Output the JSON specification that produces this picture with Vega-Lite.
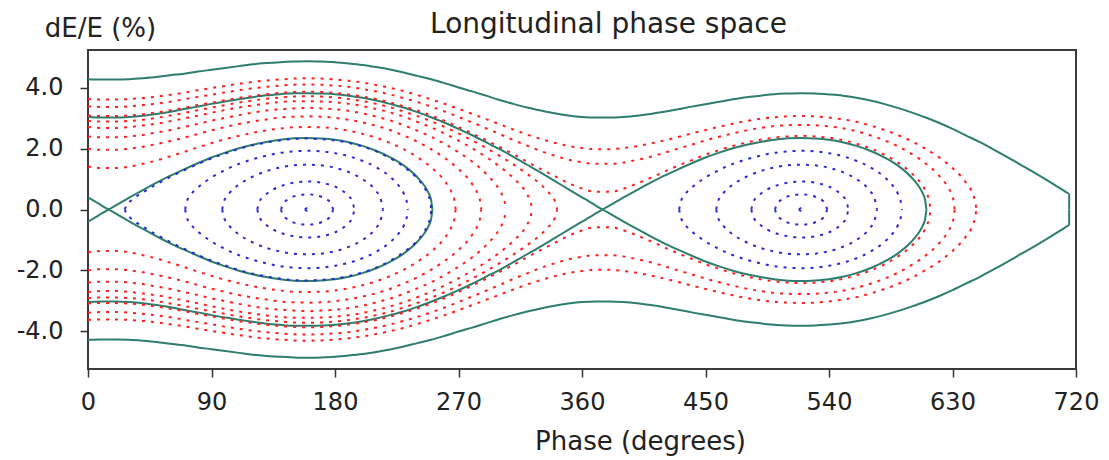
{
"$schema": "https://vega.github.io/schema/vega-lite/v6.json",
"width": 988, "height": 319,
"autosize": {"type": "none"},
"padding": {"left": 88, "top": 50, "right": 33, "bottom": 91},
"background": "white",
"config": {
  "font": "DejaVu Sans",
  "view": {"stroke": "#3a3a3a", "strokeWidth": 2},
  "axis": {"grid": false, "domain": false, "tickColor": "#333333", "tickSize": 8, "tickWidth": 1.5, "labelColor": "#222222", "titleColor": "#222222", "labelFont": "DejaVu Sans", "titleFont": "DejaVu Sans", "titleFontWeight": "normal"},
  "line": {"interpolate": "monotone", "clip": true}
},
"datasets": {
"green": [
{"c":"o","p":0,"d":4.28},{"c":"o","p":10,"d":4.27},{"c":"o","p":20,"d":4.27},{"c":"o","p":30,"d":4.28},{"c":"o","p":40,"d":4.31},{"c":"o","p":50,"d":4.35},{"c":"o","p":60,"d":4.41},{"c":"o","p":70,"d":4.46},{"c":"o","p":80,"d":4.53},{"c":"o","p":90,"d":4.59},{"c":"o","p":100,"d":4.65},{"c":"o","p":110,"d":4.71},{"c":"o","p":120,"d":4.77},{"c":"o","p":130,"d":4.81},{"c":"o","p":140,"d":4.84},{"c":"o","p":150,"d":4.86},{"c":"o","p":160,"d":4.87},{"c":"o","p":170,"d":4.86},{"c":"o","p":180,"d":4.84},{"c":"o","p":190,"d":4.80},{"c":"o","p":200,"d":4.75},{"c":"o","p":210,"d":4.68},{"c":"o","p":220,"d":4.60},{"c":"o","p":230,"d":4.50},{"c":"o","p":240,"d":4.39},{"c":"o","p":250,"d":4.28},{"c":"o","p":260,"d":4.15},{"c":"o","p":270,"d":4.01},{"c":"o","p":280,"d":3.88},{"c":"o","p":290,"d":3.74},{"c":"o","p":300,"d":3.60},{"c":"o","p":310,"d":3.47},{"c":"o","p":320,"d":3.35},{"c":"o","p":330,"d":3.25},{"c":"o","p":340,"d":3.16},{"c":"o","p":350,"d":3.09},{"c":"o","p":360,"d":3.04},{"c":"o","p":370,"d":3.02},{"c":"o","p":380,"d":3.02},{"c":"o","p":390,"d":3.04},{"c":"o","p":400,"d":3.08},{"c":"o","p":410,"d":3.14},{"c":"o","p":420,"d":3.21},{"c":"o","p":430,"d":3.29},{"c":"o","p":440,"d":3.38},{"c":"o","p":450,"d":3.46},{"c":"o","p":460,"d":3.54},{"c":"o","p":470,"d":3.62},{"c":"o","p":480,"d":3.69},{"c":"o","p":490,"d":3.74},{"c":"o","p":500,"d":3.79},{"c":"o","p":510,"d":3.81},{"c":"o","p":520,"d":3.82},{"c":"o","p":530,"d":3.81},{"c":"o","p":540,"d":3.78},{"c":"o","p":550,"d":3.74},{"c":"o","p":560,"d":3.67},{"c":"o","p":570,"d":3.58},{"c":"o","p":580,"d":3.47},{"c":"o","p":590,"d":3.34},{"c":"o","p":600,"d":3.19},{"c":"o","p":610,"d":3.03},{"c":"o","p":620,"d":2.85},{"c":"o","p":630,"d":2.65},{"c":"o","p":640,"d":2.43},{"c":"o","p":650,"d":2.21},{"c":"o","p":660,"d":1.97},{"c":"o","p":670,"d":1.72},{"c":"o","p":680,"d":1.46},{"c":"o","p":690,"d":1.20},{"c":"o","p":700,"d":0.93},{"c":"o","p":710,"d":0.65},{"c":"o","p":715,"d":0.51},
{"c":"ov","p":715,"d":0.51},{"c":"ov","p":715,"d":0},
{"c":"s2a","p":0,"d":3.04},{"c":"s2a","p":10,"d":3.02},{"c":"s2a","p":20,"d":3.02},{"c":"s2a","p":30,"d":3.04},{"c":"s2a","p":40,"d":3.08},{"c":"s2a","p":50,"d":3.14},{"c":"s2a","p":60,"d":3.21},{"c":"s2a","p":70,"d":3.30},{"c":"s2a","p":80,"d":3.38},{"c":"s2a","p":90,"d":3.47},{"c":"s2a","p":100,"d":3.55},{"c":"s2a","p":110,"d":3.62},{"c":"s2a","p":120,"d":3.69},{"c":"s2a","p":130,"d":3.75},{"c":"s2a","p":140,"d":3.79},{"c":"s2a","p":150,"d":3.82},{"c":"s2a","p":160,"d":3.82},{"c":"s2a","p":170,"d":3.81},{"c":"s2a","p":180,"d":3.79},{"c":"s2a","p":190,"d":3.74},{"c":"s2a","p":200,"d":3.67},{"c":"s2a","p":210,"d":3.58},{"c":"s2a","p":220,"d":3.47},{"c":"s2a","p":230,"d":3.35},{"c":"s2a","p":240,"d":3.20},{"c":"s2a","p":250,"d":3.03},{"c":"s2a","p":260,"d":2.85},{"c":"s2a","p":270,"d":2.65},{"c":"s2a","p":280,"d":2.44},{"c":"s2a","p":290,"d":2.21},{"c":"s2a","p":300,"d":1.98},{"c":"s2a","p":310,"d":1.73},{"c":"s2a","p":320,"d":1.47},{"c":"s2a","p":330,"d":1.21},{"c":"s2a","p":340,"d":0.94},{"c":"s2a","p":350,"d":0.67},{"c":"s2a","p":360,"d":0.40},{"c":"s2a","p":365,"d":0.27},{"c":"s2a","p":370,"d":0.13},{"c":"s2a","p":375,"d":0},
{"c":"s2b","p":375,"d":0},{"c":"s2b","p":380,"d":0.13},{"c":"s2b","p":385,"d":0.26},{"c":"s2b","p":390,"d":0.39},{"c":"s2b","p":400,"d":0.64},{"c":"s2b","p":410,"d":0.88},{"c":"s2b","p":420,"d":1.11},{"c":"s2b","p":430,"d":1.32},{"c":"s2b","p":440,"d":1.52},{"c":"s2b","p":450,"d":1.71},{"c":"s2b","p":460,"d":1.87},{"c":"s2b","p":470,"d":2.01},{"c":"s2b","p":480,"d":2.13},{"c":"s2b","p":490,"d":2.22},{"c":"s2b","p":500,"d":2.29},{"c":"s2b","p":510,"d":2.34},{"c":"s2b","p":520,"d":2.35},{"c":"s2b","p":530,"d":2.33},{"c":"s2b","p":540,"d":2.29},{"c":"s2b","p":550,"d":2.21},{"c":"s2b","p":560,"d":2.09},{"c":"s2b","p":570,"d":1.93},{"c":"s2b","p":580,"d":1.72},{"c":"s2b","p":590,"d":1.45},{"c":"s2b","p":600,"d":1.06},{"c":"s2b","p":605,"d":0.79},{"c":"s2b","p":608,"d":0.56},{"c":"s2b","p":610,"d":0.32},{"c":"s2b","p":611,"d":0},
{"c":"s1a","p":0,"d":0.40},{"c":"s1a","p":5,"d":0.27},{"c":"s1a","p":10,"d":0.13},{"c":"s1a","p":15,"d":0},
{"c":"s1b","p":15,"d":0},{"c":"s1b","p":20,"d":0.13},{"c":"s1b","p":25,"d":0.26},{"c":"s1b","p":30,"d":0.39},{"c":"s1b","p":40,"d":0.64},{"c":"s1b","p":50,"d":0.88},{"c":"s1b","p":60,"d":1.11},{"c":"s1b","p":70,"d":1.32},{"c":"s1b","p":80,"d":1.52},{"c":"s1b","p":90,"d":1.71},{"c":"s1b","p":100,"d":1.87},{"c":"s1b","p":110,"d":2.01},{"c":"s1b","p":120,"d":2.13},{"c":"s1b","p":130,"d":2.22},{"c":"s1b","p":140,"d":2.29},{"c":"s1b","p":150,"d":2.34},{"c":"s1b","p":160,"d":2.35},{"c":"s1b","p":170,"d":2.33},{"c":"s1b","p":180,"d":2.29},{"c":"s1b","p":190,"d":2.21},{"c":"s1b","p":200,"d":2.09},{"c":"s1b","p":210,"d":1.93},{"c":"s1b","p":220,"d":1.72},{"c":"s1b","p":230,"d":1.45},{"c":"s1b","p":240,"d":1.06},{"c":"s1b","p":245,"d":0.79},{"c":"s1b","p":248,"d":0.56},{"c":"s1b","p":250,"d":0.32},{"c":"s1b","p":251,"d":0}
],
"red": [
{"c":"r1","p":0,"d":1.41},{"c":"r1","p":10,"d":1.36},{"c":"r1","p":20,"d":1.36},{"c":"r1","p":30,"d":1.41},{"c":"r1","p":40,"d":1.50},{"c":"r1","p":50,"d":1.61},{"c":"r1","p":60,"d":1.75},{"c":"r1","p":70,"d":1.89},{"c":"r1","p":80,"d":2.04},{"c":"r1","p":90,"d":2.18},{"c":"r1","p":100,"d":2.31},{"c":"r1","p":110,"d":2.42},{"c":"r1","p":120,"d":2.52},{"c":"r1","p":130,"d":2.60},{"c":"r1","p":140,"d":2.66},{"c":"r1","p":150,"d":2.70},{"c":"r1","p":160,"d":2.71},{"c":"r1","p":170,"d":2.70},{"c":"r1","p":180,"d":2.66},{"c":"r1","p":190,"d":2.59},{"c":"r1","p":200,"d":2.49},{"c":"r1","p":210,"d":2.36},{"c":"r1","p":220,"d":2.19},{"c":"r1","p":230,"d":1.98},{"c":"r1","p":240,"d":1.72},{"c":"r1","p":250,"d":1.39},{"c":"r1","p":260,"d":0.93},{"c":"r1","p":265,"d":0.56},{"c":"r1","p":267,"d":0.31},{"c":"r1","p":267.9,"d":0},
{"c":"r2","p":0,"d":2.00},{"c":"r2","p":10,"d":1.96},{"c":"r2","p":20,"d":1.96},{"c":"r2","p":30,"d":2.00},{"c":"r2","p":40,"d":2.06},{"c":"r2","p":50,"d":2.15},{"c":"r2","p":60,"d":2.25},{"c":"r2","p":70,"d":2.36},{"c":"r2","p":80,"d":2.48},{"c":"r2","p":90,"d":2.60},{"c":"r2","p":100,"d":2.71},{"c":"r2","p":110,"d":2.81},{"c":"r2","p":120,"d":2.89},{"c":"r2","p":130,"d":2.96},{"c":"r2","p":140,"d":3.02},{"c":"r2","p":150,"d":3.05},{"c":"r2","p":160,"d":3.06},{"c":"r2","p":170,"d":3.05},{"c":"r2","p":180,"d":3.01},{"c":"r2","p":190,"d":2.95},{"c":"r2","p":200,"d":2.86},{"c":"r2","p":210,"d":2.75},{"c":"r2","p":220,"d":2.61},{"c":"r2","p":230,"d":2.43},{"c":"r2","p":240,"d":2.23},{"c":"r2","p":250,"d":1.98},{"c":"r2","p":260,"d":1.69},{"c":"r2","p":270,"d":1.33},{"c":"r2","p":280,"d":0.83},{"c":"r2","p":284,"d":0.51},{"c":"r2","p":286,"d":0.23},{"c":"r2","p":286.5,"d":0},
{"c":"r3","p":0,"d":2.40},{"c":"r3","p":10,"d":2.37},{"c":"r3","p":20,"d":2.37},{"c":"r3","p":30,"d":2.40},{"c":"r3","p":40,"d":2.45},{"c":"r3","p":50,"d":2.53},{"c":"r3","p":60,"d":2.61},{"c":"r3","p":70,"d":2.71},{"c":"r3","p":80,"d":2.81},{"c":"r3","p":90,"d":2.92},{"c":"r3","p":100,"d":3.01},{"c":"r3","p":110,"d":3.10},{"c":"r3","p":120,"d":3.18},{"c":"r3","p":130,"d":3.25},{"c":"r3","p":140,"d":3.29},{"c":"r3","p":150,"d":3.32},{"c":"r3","p":160,"d":3.34},{"c":"r3","p":170,"d":3.32},{"c":"r3","p":180,"d":3.29},{"c":"r3","p":190,"d":3.24},{"c":"r3","p":200,"d":3.16},{"c":"r3","p":210,"d":3.05},{"c":"r3","p":220,"d":2.93},{"c":"r3","p":230,"d":2.77},{"c":"r3","p":240,"d":2.59},{"c":"r3","p":250,"d":2.39},{"c":"r3","p":260,"d":2.15},{"c":"r3","p":270,"d":1.88},{"c":"r3","p":280,"d":1.57},{"c":"r3","p":290,"d":1.18},{"c":"r3","p":300,"d":0.63},{"c":"r3","p":302,"d":0.46},{"c":"r3","p":304,"d":0.15},{"c":"r3","p":304.3,"d":0},
{"c":"r4","p":0,"d":2.71},{"c":"r4","p":10,"d":2.68},{"c":"r4","p":20,"d":2.68},{"c":"r4","p":30,"d":2.71},{"c":"r4","p":40,"d":2.76},{"c":"r4","p":50,"d":2.82},{"c":"r4","p":60,"d":2.90},{"c":"r4","p":70,"d":2.99},{"c":"r4","p":80,"d":3.08},{"c":"r4","p":90,"d":3.18},{"c":"r4","p":100,"d":3.27},{"c":"r4","p":110,"d":3.35},{"c":"r4","p":120,"d":3.42},{"c":"r4","p":130,"d":3.48},{"c":"r4","p":140,"d":3.53},{"c":"r4","p":150,"d":3.56},{"c":"r4","p":160,"d":3.56},{"c":"r4","p":170,"d":3.55},{"c":"r4","p":180,"d":3.52},{"c":"r4","p":190,"d":3.47},{"c":"r4","p":200,"d":3.40},{"c":"r4","p":210,"d":3.30},{"c":"r4","p":220,"d":3.19},{"c":"r4","p":230,"d":3.05},{"c":"r4","p":240,"d":2.88},{"c":"r4","p":250,"d":2.70},{"c":"r4","p":260,"d":2.49},{"c":"r4","p":270,"d":2.26},{"c":"r4","p":280,"d":2.01},{"c":"r4","p":290,"d":1.73},{"c":"r4","p":300,"d":1.41},{"c":"r4","p":310,"d":1.03},{"c":"r4","p":320,"d":0.50},{"c":"r4","p":322,"d":0.31},{"c":"r4","p":323,"d":0.15},{"c":"r4","p":323.3,"d":0},
{"c":"r5","p":0,"d":2.91},{"c":"r5","p":10,"d":2.89},{"c":"r5","p":20,"d":2.89},{"c":"r5","p":30,"d":2.91},{"c":"r5","p":40,"d":2.95},{"c":"r5","p":50,"d":3.01},{"c":"r5","p":60,"d":3.09},{"c":"r5","p":70,"d":3.17},{"c":"r5","p":80,"d":3.26},{"c":"r5","p":90,"d":3.35},{"c":"r5","p":100,"d":3.43},{"c":"r5","p":110,"d":3.51},{"c":"r5","p":120,"d":3.58},{"c":"r5","p":130,"d":3.64},{"c":"r5","p":140,"d":3.68},{"c":"r5","p":150,"d":3.71},{"c":"r5","p":160,"d":3.72},{"c":"r5","p":170,"d":3.71},{"c":"r5","p":180,"d":3.68},{"c":"r5","p":190,"d":3.63},{"c":"r5","p":200,"d":3.56},{"c":"r5","p":210,"d":3.47},{"c":"r5","p":220,"d":3.36},{"c":"r5","p":230,"d":3.22},{"c":"r5","p":240,"d":3.07},{"c":"r5","p":250,"d":2.90},{"c":"r5","p":260,"d":2.71},{"c":"r5","p":270,"d":2.50},{"c":"r5","p":280,"d":2.27},{"c":"r5","p":290,"d":2.03},{"c":"r5","p":300,"d":1.76},{"c":"r5","p":310,"d":1.48},{"c":"r5","p":320,"d":1.17},{"c":"r5","p":330,"d":0.82},{"c":"r5","p":336,"d":0.55},{"c":"r5","p":340,"d":0.30},{"c":"r5","p":341,"d":0.20},{"c":"r5","p":341.85,"d":0},
{"c":"r6","p":0,"d":3.09},{"c":"r6","p":10,"d":3.07},{"c":"r6","p":20,"d":3.07},{"c":"r6","p":30,"d":3.09},{"c":"r6","p":40,"d":3.13},{"c":"r6","p":50,"d":3.19},{"c":"r6","p":60,"d":3.26},{"c":"r6","p":70,"d":3.34},{"c":"r6","p":80,"d":3.43},{"c":"r6","p":90,"d":3.51},{"c":"r6","p":100,"d":3.59},{"c":"r6","p":110,"d":3.67},{"c":"r6","p":120,"d":3.73},{"c":"r6","p":130,"d":3.79},{"c":"r6","p":140,"d":3.83},{"c":"r6","p":150,"d":3.86},{"c":"r6","p":160,"d":3.87},{"c":"r6","p":170,"d":3.86},{"c":"r6","p":180,"d":3.83},{"c":"r6","p":190,"d":3.78},{"c":"r6","p":200,"d":3.71},{"c":"r6","p":210,"d":3.63},{"c":"r6","p":220,"d":3.52},{"c":"r6","p":230,"d":3.39},{"c":"r6","p":240,"d":3.25},{"c":"r6","p":250,"d":3.09},{"c":"r6","p":260,"d":2.91},{"c":"r6","p":270,"d":2.71},{"c":"r6","p":280,"d":2.50},{"c":"r6","p":290,"d":2.28},{"c":"r6","p":300,"d":2.05},{"c":"r6","p":310,"d":1.82},{"c":"r6","p":320,"d":1.57},{"c":"r6","p":330,"d":1.33},{"c":"r6","p":340,"d":1.10},{"c":"r6","p":350,"d":0.87},{"c":"r6","p":360,"d":0.69},{"c":"r6","p":370,"d":0.58},{"c":"r6","p":380,"d":0.58},{"c":"r6","p":390,"d":0.68},{"c":"r6","p":400,"d":0.85},{"c":"r6","p":410,"d":1.04},{"c":"r6","p":420,"d":1.24},{"c":"r6","p":430,"d":1.44},{"c":"r6","p":440,"d":1.62},{"c":"r6","p":450,"d":1.80},{"c":"r6","p":460,"d":1.95},{"c":"r6","p":470,"d":2.09},{"c":"r6","p":480,"d":2.20},{"c":"r6","p":490,"d":2.29},{"c":"r6","p":500,"d":2.36},{"c":"r6","p":510,"d":2.40},{"c":"r6","p":520,"d":2.42},{"c":"r6","p":530,"d":2.40},{"c":"r6","p":540,"d":2.36},{"c":"r6","p":550,"d":2.28},{"c":"r6","p":560,"d":2.16},{"c":"r6","p":570,"d":2.01},{"c":"r6","p":580,"d":1.81},{"c":"r6","p":590,"d":1.55},{"c":"r6","p":600,"d":1.20},{"c":"r6","p":610,"d":0.64},{"c":"r6","p":612,"d":0.45},{"c":"r6","p":613,"d":0.31},{"c":"r6","p":613.9,"d":0},
{"c":"r7","p":0,"d":3.39},{"c":"r7","p":10,"d":3.37},{"c":"r7","p":20,"d":3.37},{"c":"r7","p":30,"d":3.39},{"c":"r7","p":40,"d":3.43},{"c":"r7","p":50,"d":3.48},{"c":"r7","p":60,"d":3.54},{"c":"r7","p":70,"d":3.62},{"c":"r7","p":80,"d":3.70},{"c":"r7","p":90,"d":3.77},{"c":"r7","p":100,"d":3.85},{"c":"r7","p":110,"d":3.92},{"c":"r7","p":120,"d":3.98},{"c":"r7","p":130,"d":4.03},{"c":"r7","p":140,"d":4.07},{"c":"r7","p":150,"d":4.10},{"c":"r7","p":160,"d":4.11},{"c":"r7","p":170,"d":4.10},{"c":"r7","p":180,"d":4.07},{"c":"r7","p":190,"d":4.03},{"c":"r7","p":200,"d":3.96},{"c":"r7","p":210,"d":3.88},{"c":"r7","p":220,"d":3.78},{"c":"r7","p":230,"d":3.66},{"c":"r7","p":240,"d":3.53},{"c":"r7","p":250,"d":3.38},{"c":"r7","p":260,"d":3.22},{"c":"r7","p":270,"d":3.04},{"c":"r7","p":280,"d":2.86},{"c":"r7","p":290,"d":2.67},{"c":"r7","p":300,"d":2.48},{"c":"r7","p":310,"d":2.28},{"c":"r7","p":320,"d":2.10},{"c":"r7","p":330,"d":1.92},{"c":"r7","p":340,"d":1.77},{"c":"r7","p":350,"d":1.64},{"c":"r7","p":360,"d":1.55},{"c":"r7","p":370,"d":1.50},{"c":"r7","p":380,"d":1.50},{"c":"r7","p":390,"d":1.54},{"c":"r7","p":400,"d":1.63},{"c":"r7","p":410,"d":1.73},{"c":"r7","p":420,"d":1.86},{"c":"r7","p":430,"d":2.00},{"c":"r7","p":440,"d":2.13},{"c":"r7","p":450,"d":2.27},{"c":"r7","p":460,"d":2.39},{"c":"r7","p":470,"d":2.50},{"c":"r7","p":480,"d":2.60},{"c":"r7","p":490,"d":2.68},{"c":"r7","p":500,"d":2.74},{"c":"r7","p":510,"d":2.77},{"c":"r7","p":520,"d":2.78},{"c":"r7","p":530,"d":2.77},{"c":"r7","p":540,"d":2.73},{"c":"r7","p":550,"d":2.67},{"c":"r7","p":560,"d":2.57},{"c":"r7","p":570,"d":2.44},{"c":"r7","p":580,"d":2.28},{"c":"r7","p":590,"d":2.08},{"c":"r7","p":600,"d":1.83},{"c":"r7","p":610,"d":1.53},{"c":"r7","p":620,"d":1.12},{"c":"r7","p":626,"d":0.78},{"c":"r7","p":630,"d":0.41},{"c":"r7","p":631,"d":0.24},{"c":"r7","p":631.55,"d":0},
{"c":"r8","p":0,"d":3.63},{"c":"r8","p":10,"d":3.61},{"c":"r8","p":20,"d":3.61},{"c":"r8","p":30,"d":3.63},{"c":"r8","p":40,"d":3.66},{"c":"r8","p":50,"d":3.71},{"c":"r8","p":60,"d":3.77},{"c":"r8","p":70,"d":3.84},{"c":"r8","p":80,"d":3.92},{"c":"r8","p":90,"d":3.99},{"c":"r8","p":100,"d":4.06},{"c":"r8","p":110,"d":4.13},{"c":"r8","p":120,"d":4.19},{"c":"r8","p":130,"d":4.24},{"c":"r8","p":140,"d":4.27},{"c":"r8","p":150,"d":4.30},{"c":"r8","p":160,"d":4.31},{"c":"r8","p":170,"d":4.30},{"c":"r8","p":180,"d":4.27},{"c":"r8","p":190,"d":4.23},{"c":"r8","p":200,"d":4.17},{"c":"r8","p":210,"d":4.09},{"c":"r8","p":220,"d":4.00},{"c":"r8","p":230,"d":3.89},{"c":"r8","p":240,"d":3.76},{"c":"r8","p":250,"d":3.62},{"c":"r8","p":260,"d":3.47},{"c":"r8","p":270,"d":3.31},{"c":"r8","p":280,"d":3.14},{"c":"r8","p":290,"d":2.97},{"c":"r8","p":300,"d":2.80},{"c":"r8","p":310,"d":2.63},{"c":"r8","p":320,"d":2.46},{"c":"r8","p":330,"d":2.32},{"c":"r8","p":340,"d":2.19},{"c":"r8","p":350,"d":2.09},{"c":"r8","p":360,"d":2.02},{"c":"r8","p":370,"d":1.98},{"c":"r8","p":380,"d":1.98},{"c":"r8","p":390,"d":2.02},{"c":"r8","p":400,"d":2.08},{"c":"r8","p":410,"d":2.17},{"c":"r8","p":420,"d":2.27},{"c":"r8","p":430,"d":2.38},{"c":"r8","p":440,"d":2.50},{"c":"r8","p":450,"d":2.61},{"c":"r8","p":460,"d":2.72},{"c":"r8","p":470,"d":2.82},{"c":"r8","p":480,"d":2.91},{"c":"r8","p":490,"d":2.98},{"c":"r8","p":500,"d":3.03},{"c":"r8","p":510,"d":3.06},{"c":"r8","p":520,"d":3.07},{"c":"r8","p":530,"d":3.06},{"c":"r8","p":540,"d":3.02},{"c":"r8","p":550,"d":2.96},{"c":"r8","p":560,"d":2.88},{"c":"r8","p":570,"d":2.76},{"c":"r8","p":580,"d":2.62},{"c":"r8","p":590,"d":2.45},{"c":"r8","p":600,"d":2.25},{"c":"r8","p":610,"d":2.00},{"c":"r8","p":620,"d":1.72},{"c":"r8","p":630,"d":1.36},{"c":"r8","p":640,"d":0.87},{"c":"r8","p":645,"d":0.48},{"c":"r8","p":647,"d":0.15},{"c":"r8","p":647.2,"d":0}
],
"blue": [
{"c":"b5","p":26.8,"d":0},{"c":"b5","p":28,"d":0.14},{"c":"b5","p":30,"d":0.24},{"c":"b5","p":35,"d":0.42},{"c":"b5","p":40,"d":0.56},{"c":"b5","p":50,"d":0.83},{"c":"b5","p":60,"d":1.07},{"c":"b5","p":70,"d":1.29},{"c":"b5","p":80,"d":1.49},{"c":"b5","p":90,"d":1.68},{"c":"b5","p":100,"d":1.84},{"c":"b5","p":110,"d":1.99},{"c":"b5","p":120,"d":2.11},{"c":"b5","p":130,"d":2.20},{"c":"b5","p":140,"d":2.27},{"c":"b5","p":150,"d":2.32},{"c":"b5","p":160,"d":2.33},{"c":"b5","p":170,"d":2.31},{"c":"b5","p":180,"d":2.27},{"c":"b5","p":190,"d":2.19},{"c":"b5","p":200,"d":2.07},{"c":"b5","p":210,"d":1.91},{"c":"b5","p":220,"d":1.69},{"c":"b5","p":230,"d":1.41},{"c":"b5","p":240,"d":1.02},{"c":"b5","p":245,"d":0.73},{"c":"b5","p":248,"d":0.47},{"c":"b5","p":249,"d":0.34},{"c":"b5","p":250,"d":0.09},{"c":"b5","p":250.07,"d":0},
{"c":"b4","p":70.78,"d":0},{"c":"b4","p":72,"d":0.26},{"c":"b4","p":75,"d":0.49},{"c":"b4","p":80,"d":0.72},{"c":"b4","p":90,"d":1.05},{"c":"b4","p":100,"d":1.30},{"c":"b4","p":110,"d":1.50},{"c":"b4","p":120,"d":1.65},{"c":"b4","p":130,"d":1.77},{"c":"b4","p":140,"d":1.86},{"c":"b4","p":150,"d":1.91},{"c":"b4","p":160,"d":1.93},{"c":"b4","p":170,"d":1.91},{"c":"b4","p":180,"d":1.85},{"c":"b4","p":190,"d":1.75},{"c":"b4","p":200,"d":1.60},{"c":"b4","p":210,"d":1.39},{"c":"b4","p":220,"d":1.08},{"c":"b4","p":225,"d":0.86},{"c":"b4","p":230,"d":0.54},{"c":"b4","p":232,"d":0.33},{"c":"b4","p":233.14,"d":0},
{"c":"b3","p":97.79,"d":0},{"c":"b3","p":99,"d":0.26},{"c":"b3","p":100,"d":0.36},{"c":"b3","p":103,"d":0.54},{"c":"b3","p":110,"d":0.82},{"c":"b3","p":120,"d":1.08},{"c":"b3","p":130,"d":1.26},{"c":"b3","p":140,"d":1.38},{"c":"b3","p":150,"d":1.45},{"c":"b3","p":160,"d":1.47},{"c":"b3","p":170,"d":1.45},{"c":"b3","p":180,"d":1.37},{"c":"b3","p":190,"d":1.23},{"c":"b3","p":200,"d":1.00},{"c":"b3","p":207,"d":0.76},{"c":"b3","p":210,"d":0.60},{"c":"b3","p":213,"d":0.39},{"c":"b3","p":214.97,"d":0},
{"c":"b2","p":123.35,"d":0},{"c":"b2","p":125,"d":0.26},{"c":"b2","p":127,"d":0.39},{"c":"b2","p":130,"d":0.51},{"c":"b2","p":135,"d":0.66},{"c":"b2","p":140,"d":0.76},{"c":"b2","p":150,"d":0.88},{"c":"b2","p":160,"d":0.92},{"c":"b2","p":170,"d":0.88},{"c":"b2","p":180,"d":0.75},{"c":"b2","p":185,"d":0.63},{"c":"b2","p":190,"d":0.44},{"c":"b2","p":192,"d":0.33},{"c":"b2","p":194.23,"d":0},
{"c":"b1","p":140.67,"d":0},{"c":"b1","p":142,"d":0.18},{"c":"b1","p":145,"d":0.31},{"c":"b1","p":150,"d":0.43},{"c":"b1","p":155,"d":0.48},{"c":"b1","p":160,"d":0.50},{"c":"b1","p":165,"d":0.48},{"c":"b1","p":170,"d":0.42},{"c":"b1","p":175,"d":0.30},{"c":"b1","p":177,"d":0.21},{"c":"b1","p":178.66,"d":0},
{"c":"t","p":158,"d":0},{"c":"t","p":160,"d":0.05},{"c":"t","p":162,"d":0},
{"c":"b4r","p":430.78,"d":0},{"c":"b4r","p":432,"d":0.26},{"c":"b4r","p":435,"d":0.49},{"c":"b4r","p":440,"d":0.72},{"c":"b4r","p":450,"d":1.05},{"c":"b4r","p":460,"d":1.30},{"c":"b4r","p":470,"d":1.50},{"c":"b4r","p":480,"d":1.65},{"c":"b4r","p":490,"d":1.77},{"c":"b4r","p":500,"d":1.86},{"c":"b4r","p":510,"d":1.91},{"c":"b4r","p":520,"d":1.93},{"c":"b4r","p":530,"d":1.91},{"c":"b4r","p":540,"d":1.85},{"c":"b4r","p":550,"d":1.75},{"c":"b4r","p":560,"d":1.60},{"c":"b4r","p":570,"d":1.39},{"c":"b4r","p":580,"d":1.08},{"c":"b4r","p":585,"d":0.86},{"c":"b4r","p":590,"d":0.54},{"c":"b4r","p":592,"d":0.33},{"c":"b4r","p":593.14,"d":0},
{"c":"b3r","p":457.79,"d":0},{"c":"b3r","p":459,"d":0.26},{"c":"b3r","p":460,"d":0.36},{"c":"b3r","p":463,"d":0.54},{"c":"b3r","p":470,"d":0.82},{"c":"b3r","p":480,"d":1.08},{"c":"b3r","p":490,"d":1.26},{"c":"b3r","p":500,"d":1.38},{"c":"b3r","p":510,"d":1.45},{"c":"b3r","p":520,"d":1.47},{"c":"b3r","p":530,"d":1.45},{"c":"b3r","p":540,"d":1.37},{"c":"b3r","p":550,"d":1.23},{"c":"b3r","p":560,"d":1.00},{"c":"b3r","p":567,"d":0.76},{"c":"b3r","p":570,"d":0.60},{"c":"b3r","p":573,"d":0.39},{"c":"b3r","p":574.97,"d":0},
{"c":"b2r","p":483.35,"d":0},{"c":"b2r","p":485,"d":0.26},{"c":"b2r","p":487,"d":0.39},{"c":"b2r","p":490,"d":0.51},{"c":"b2r","p":495,"d":0.66},{"c":"b2r","p":500,"d":0.76},{"c":"b2r","p":510,"d":0.88},{"c":"b2r","p":520,"d":0.92},{"c":"b2r","p":530,"d":0.88},{"c":"b2r","p":540,"d":0.75},{"c":"b2r","p":545,"d":0.63},{"c":"b2r","p":550,"d":0.44},{"c":"b2r","p":552,"d":0.33},{"c":"b2r","p":554.23,"d":0},
{"c":"b1r","p":500.67,"d":0},{"c":"b1r","p":502,"d":0.18},{"c":"b1r","p":505,"d":0.31},{"c":"b1r","p":510,"d":0.43},{"c":"b1r","p":515,"d":0.48},{"c":"b1r","p":520,"d":0.50},{"c":"b1r","p":525,"d":0.48},{"c":"b1r","p":530,"d":0.42},{"c":"b1r","p":535,"d":0.30},{"c":"b1r","p":537,"d":0.21},{"c":"b1r","p":538.66,"d":0},
{"c":"tr","p":518,"d":0},{"c":"tr","p":520,"d":0.05},{"c":"tr","p":522,"d":0}
]
},
"layer": [
{"data": {"name": "green"}, "mark": {"type": "line", "color": "#2e7d6e", "strokeWidth": 2},
 "encoding": {
  "x": {"field": "p", "type": "quantitative", "scale": {"domain": [0, 720]},
        "axis": {"values": [0, 90, 180, 270, 360, 450, 540, 630, 720], "format": "d", "labelFlush": false, "labelOverlap": false, "labelFontSize": 24, "labelPadding": 13, "title": "Phase (degrees)", "titleFontSize": 26, "titleX": 552, "titleY": 80, "titleAlign": "center", "titleBaseline": "alphabetic"}},
  "y": {"field": "d", "type": "quantitative", "scale": {"domain": [-5.24, 5.24]},
        "axis": {"values": [-4, -2, 0, 2, 4], "labelExpr": "replace(format(datum.value, '.1f'), '\u2212', '-')", "labelFontSize": 24, "labelPadding": 17, "labelOverlap": false, "title": "dE/E (%)", "titleAngle": 0, "titleFontSize": 26, "titleX": 12, "titleY": -14, "titleAlign": "center", "titleBaseline": "alphabetic"}},
  "detail": {"field": "c"}}},
{"data": {"name": "green"}, "mark": {"type": "line", "color": "#2e7d6e", "strokeWidth": 2},
 "encoding": {
  "x": {"field": "p", "type": "quantitative", "scale": {"domain": [0, 720]},
        "axis": {"orient": "top", "labels": false, "ticks": false, "domain": false, "title": "Longitudinal phase space", "titleFontSize": 28, "titleX": 520, "titleY": -18, "titleAlign": "center", "titleBaseline": "alphabetic"}},
  "y": {"field": "d", "type": "quantitative", "scale": {"domain": [-5.24, 5.24], "reverse": true}, "axis": null},
  "detail": {"field": "c"}}},
{"data": {"name": "blue"}, "mark": {"type": "line", "color": "#2a2ad4", "strokeWidth": 2, "strokeDash": [3, 6]},
 "encoding": {
  "x": {"field": "p", "type": "quantitative", "scale": {"domain": [0, 720]}, "axis": null},
  "y": {"field": "d", "type": "quantitative", "scale": {"domain": [-5.24, 5.24]}, "axis": null},
  "detail": {"field": "c"}}},
{"data": {"name": "blue"}, "mark": {"type": "line", "color": "#2a2ad4", "strokeWidth": 2, "strokeDash": [3, 6]},
 "encoding": {
  "x": {"field": "p", "type": "quantitative", "scale": {"domain": [0, 720]}, "axis": null},
  "y": {"field": "d", "type": "quantitative", "scale": {"domain": [-5.24, 5.24], "reverse": true}, "axis": null},
  "detail": {"field": "c"}}},
{"data": {"name": "red"}, "mark": {"type": "line", "color": "#ff1f1f", "strokeWidth": 2, "strokeDash": [3, 6]},
 "encoding": {
  "x": {"field": "p", "type": "quantitative", "scale": {"domain": [0, 720]}, "axis": null},
  "y": {"field": "d", "type": "quantitative", "scale": {"domain": [-5.24, 5.24]}, "axis": null},
  "detail": {"field": "c"}}},
{"data": {"name": "red"}, "mark": {"type": "line", "color": "#ff1f1f", "strokeWidth": 2, "strokeDash": [3, 6]},
 "encoding": {
  "x": {"field": "p", "type": "quantitative", "scale": {"domain": [0, 720]}, "axis": null},
  "y": {"field": "d", "type": "quantitative", "scale": {"domain": [-5.24, 5.24], "reverse": true}, "axis": null},
  "detail": {"field": "c"}}}
],
"resolve": {"scale": {"y": "independent"}, "axis": {"x": "independent", "y": "independent"}}
}
